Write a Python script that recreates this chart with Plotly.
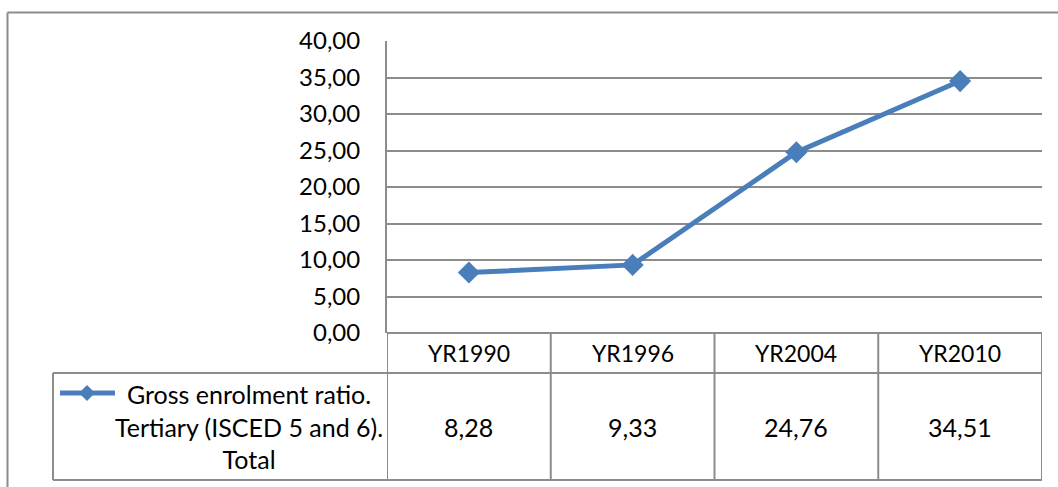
import plotly.graph_objects as go

# Gross enrolment ratio, tertiary (ISCED 5 and 6), total
years = ["YR1990", "YR1996", "YR2004", "YR2010"]
ratio = [8.28, 9.33, 24.76, 34.51]
series_name = ["Gross enrolment ratio.", "Tertiary (ISCED 5 and 6).", "Total"]
y_ticks = [0, 5, 10, 15, 20, 25, 30, 35, 40]

W, H = 1058, 487
BLUE = "#4a7ebb"
GRID = "#8c8c8c"
FONT = "Lato"

# pixel layout helpers
def px(x):
    return x / W

def py(y):
    return 1 - y / H

plot_left, plot_right = 387, 1042
plot_top, plot_bottom = 41, 333
row_split, table_bottom = 373, 480
legend_left = 53

fig = go.Figure()
fig.add_trace(go.Scatter(
    x=list(range(len(years))), y=ratio, mode="lines+markers",
    line=dict(color=BLUE, width=5),
    marker=dict(symbol="diamond", size=17, color=BLUE),
    showlegend=False, hoverinfo="skip",
))

shapes = []
line_style = dict(color=GRID, width=2)

# outer chart frame (top and left edges)
shapes.append(dict(type="line", xref="paper", yref="paper",
                   x0=px(7.5), x1=1.01, y0=py(12.5), y1=py(12.5), line=line_style))
shapes.append(dict(type="line", xref="paper", yref="paper",
                   x0=px(7.5), x1=px(7.5), y0=py(12.5), y1=-0.01, line=line_style))

# data table: column separators tied to the category axis
n = len(years)
for i in range(n + 1):
    shapes.append(dict(type="line", xref="x", yref="paper",
                       x0=i - 0.5, x1=i - 0.5,
                       y0=py(plot_bottom), y1=py(table_bottom), line=line_style))
# horizontal rules of the table
shapes.append(dict(type="line", xref="x", yref="paper", x0=-0.5, x1=n - 0.5,
                   y0=py(plot_bottom), y1=py(plot_bottom), line=line_style))
shapes.append(dict(type="line", xref="paper", yref="paper", x0=px(legend_left), x1=px(plot_right),
                   y0=py(row_split), y1=py(row_split), line=line_style))
shapes.append(dict(type="line", xref="paper", yref="paper", x0=px(legend_left), x1=px(plot_right),
                   y0=py(table_bottom), y1=py(table_bottom), line=line_style))
shapes.append(dict(type="line", xref="paper", yref="paper", x0=px(legend_left), x1=px(legend_left),
                   y0=py(row_split), y1=py(table_bottom), line=line_style))

# legend key: line with a diamond marker
key_y = 393
shapes.append(dict(type="line", xref="paper", yref="paper", x0=px(60), x1=px(115),
                   y0=py(key_y), y1=py(key_y), line=dict(color=BLUE, width=5)))
d = 8
shapes.append(dict(type="path", xref="paper", yref="paper",
                   path=f"M {px(87)},{py(key_y - d)} L {px(87 + d)},{py(key_y)} "
                        f"L {px(87)},{py(key_y + d)} L {px(87 - d)},{py(key_y)} Z",
                   fillcolor=BLUE, line=dict(color=BLUE, width=0)))

annotations = []
for i, (yr, v) in enumerate(zip(years, ratio)):
    annotations.append(dict(x=i, y=py((plot_bottom + row_split) / 2), xref="x", yref="paper",
                            text=yr, showarrow=False, xanchor="center", yanchor="middle",
                            font=dict(family=FONT, size=23, color="#000")))
    annotations.append(dict(x=i, y=py((row_split + table_bottom) / 2), xref="x", yref="paper",
                            text=f"{v:.2f}".replace(".", ","), showarrow=False,
                            xanchor="center", yanchor="middle",
                            font=dict(family=FONT, size=25, color="#000")))
annotations.append(dict(x=px(249), y=py(426), xref="paper", yref="paper",
                        text="<br>".join(series_name), showarrow=False,
                        xanchor="center", yanchor="middle", align="center",
                        font=dict(family=FONT, size=25, color="#000")))

fig.update_layout(
    width=W, height=H,
    margin=dict(l=0, r=0, t=0, b=0, pad=0),
    paper_bgcolor="white", plot_bgcolor="white",
    separators=", ",
    shapes=shapes, annotations=annotations,
    xaxis=dict(domain=[px(plot_left), px(plot_right)], range=[-0.5, n - 0.5],
               showticklabels=False, showgrid=False, zeroline=False, ticks="",
               showline=False, automargin=False),
    yaxis=dict(domain=[py(plot_bottom), py(plot_top)], range=[0, 40],
               tickvals=y_ticks, tickformat=".2f", showgrid=True,
               gridcolor=GRID, gridwidth=2, zeroline=False,
               showline=True, linecolor=GRID, linewidth=2, ticks="",
               ticklabelstandoff=20, automargin=False,
               tickfont=dict(family=FONT, size=24, color="#000")),
)

fig.write_html("out.html")
